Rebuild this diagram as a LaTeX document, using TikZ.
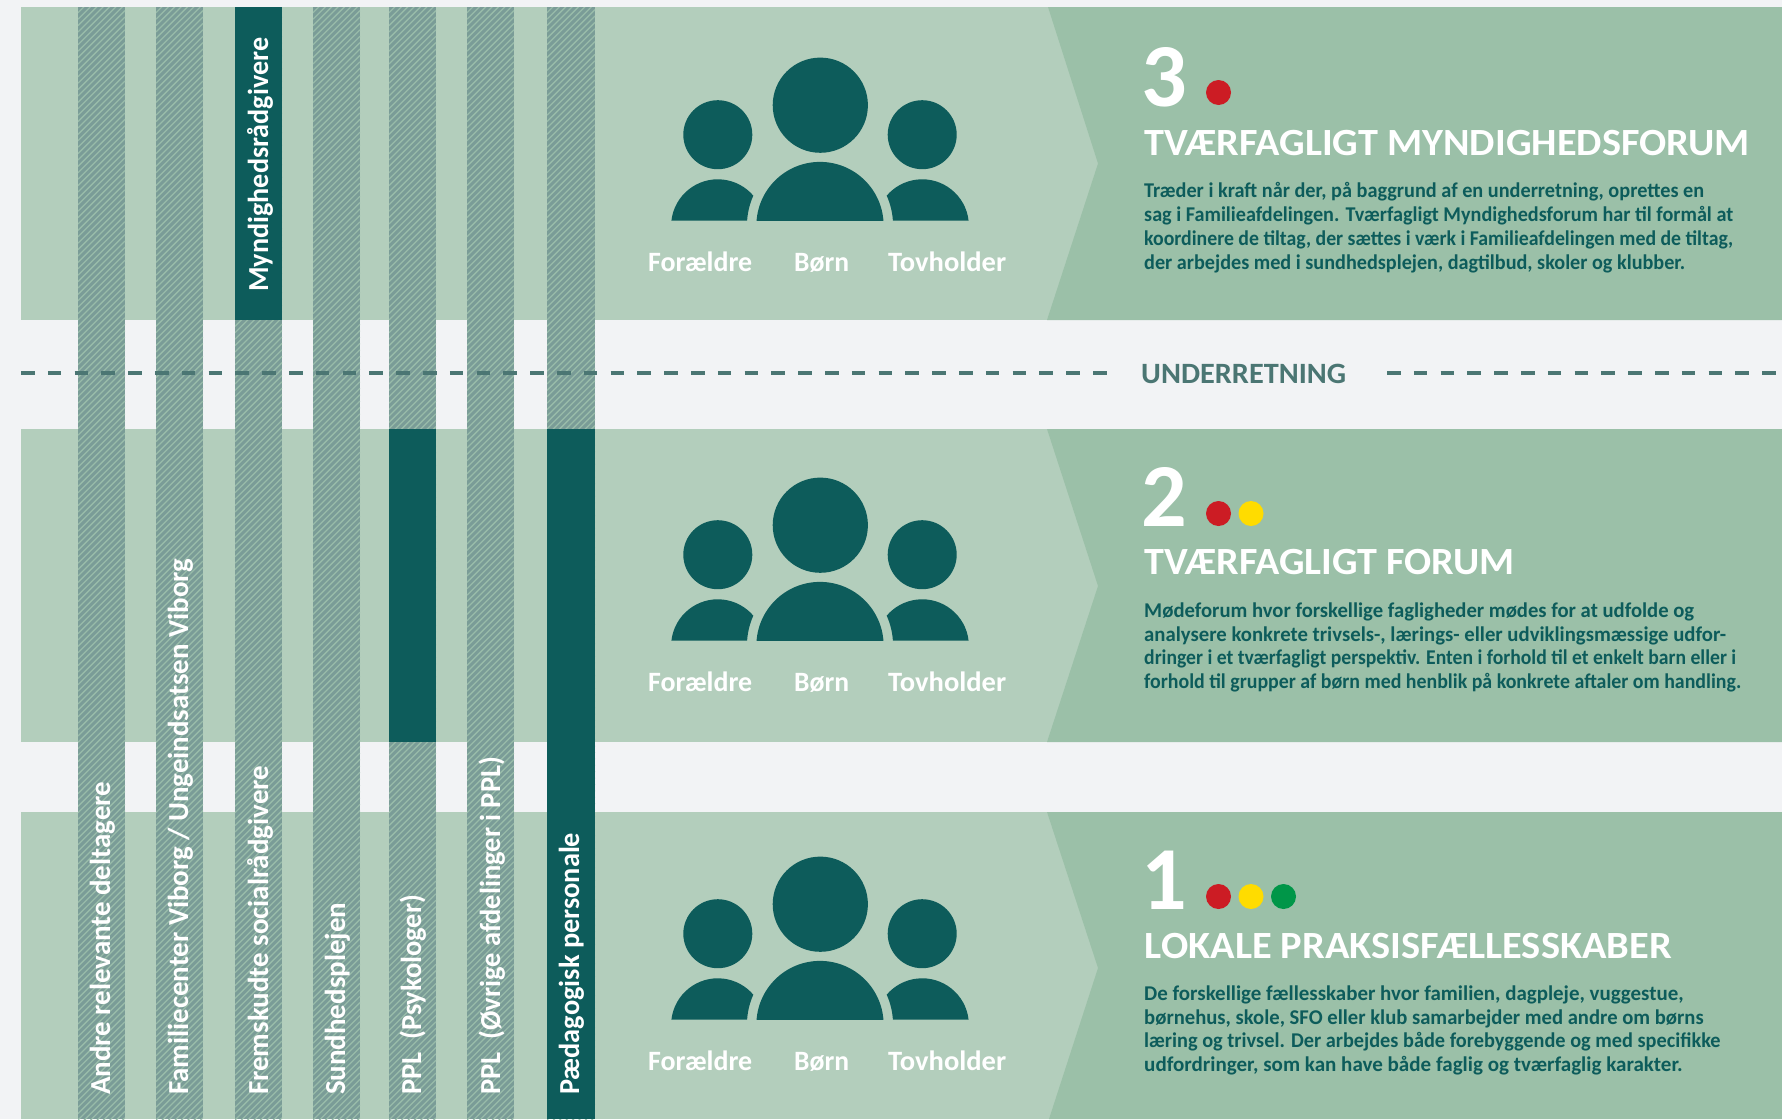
\documentclass[tikz,border=0pt]{standalone}
\usepackage{graphicx}
\usepackage{fontspec}
\setmainfont{Carlito}
\usetikzlibrary{calc}
\definecolor{pagebg}{HTML}{F2F3F5}
\definecolor{bandlight}{HTML}{B3CEBC}
\definecolor{banddark}{HTML}{9BC0A8}
\definecolor{teal}{HTML}{0D5C5B}
\definecolor{hatchbase}{HTML}{7A9C97}
\definecolor{hatchline}{HTML}{98BBA9}
\definecolor{dashcol}{HTML}{4B7673}
\definecolor{dotred}{HTML}{CC1C24}
\definecolor{dotyellow}{HTML}{FFDC00}
\definecolor{dotgreen}{HTML}{009648}
\newcommand\fitw[2]{\resizebox{#1pt}{\height}{#2}}
\newcommand\hatchstrip[2]{%
  \begin{scope}
    \clip (#1,7) rectangle (#2,1119);
    \fill[hatchbase] (#1,7) rectangle (#2,1119);
    \foreach \yy in {0,6.4,...,1230}{
      \draw[hatchline,line width=1.3pt] (#1,\yy) -- (#2,\yy-#2+#1);
    }
  \end{scope}}
\tikzset{
  x=1pt,y=-1pt,
  stripelabel/.style={rotate=90,anchor=base west,inner sep=0pt,text=white,font=\fontsize{29}{29}\selectfont\bfseries},
  peoplelabel/.style={anchor=base west,inner sep=0pt,text=white,font=\fontsize{28}{28}\selectfont\bfseries},
  numeral/.style={anchor=base west,inner sep=0pt,text=white,font=\fontsize{90}{90}\selectfont\bfseries},
  heading/.style={anchor=base west,inner sep=0pt,text=white,font=\fontsize{38.5}{38.5}\selectfont\bfseries},
  bodytext/.style={anchor=base west,inner sep=0pt,align=left,text=teal,font=\fontsize{21}{23.7}\selectfont\bfseries},
  dashline/.style={draw=dashcol,line width=4pt,dash pattern=on 13.6pt off 13.2pt},
  leveldot/.style={circle,inner sep=0pt,minimum size=25pt},
  people/.pic={
    \fill[teal] (820.3,105.2) circle[radius=47.6];
    \fill[teal] (717.8,134.7) circle[radius=34.5];
    \fill[teal] (922.2,134.7) circle[radius=34.5];
    % centre body
    \begin{scope}
      \clip (740,150) rectangle (900,220.7);
      \fill[teal] (820,225.5) circle[radius=63.6];
    \end{scope}
    % left body
    \fill[teal] (671.4,220.7) arc[start angle=173.5,end angle=40.5,radius=46.7pt]
       arc[start angle=155.9,end angle=176.2,radius=73pt] -- cycle;
    % right body
    \fill[teal] (968.6,220.7) arc[start angle=6.5,end angle=139.5,radius=46.7pt]
       arc[start angle=24.1,end angle=3.8,radius=73pt] -- cycle;
    \node[peoplelabel] (-f) at (648,271) {\fitw{104}{Forældre}};
    \node[peoplelabel] (-b) at (794,271) {\fitw{55}{Børn}};
    \node[peoplelabel] (-t) at (888,271) {\fitw{118}{Tovholder}};
  }
}
\begin{document}
\begin{tikzpicture}
\useasboundingbox (0,0) rectangle (1782,1119);
\fill[pagebg] (0,0) rectangle (1782,1119);
% bands
\fill[bandlight] (21,7) rectangle (1100,320);
\fill[bandlight] (21,429) rectangle (1100,742);
\fill[bandlight] (21,812) rectangle (1100,1119);
\fill[banddark] (1048,7) -- (1098,163.5) -- (1047,320) -- (1782,320) -- (1782,7) -- cycle;
\fill[banddark] (1047,429) -- (1098,586) -- (1047,742) -- (1782,742) -- (1782,429) -- cycle;
\fill[banddark] (1047,812) -- (1098,968) -- (1049,1119) -- (1782,1119) -- (1782,812) -- cycle;
% hatched strips
\hatchstrip{78}{125}
\hatchstrip{156}{203}
\hatchstrip{235}{282}
\hatchstrip{313}{360}
\hatchstrip{389}{436}
\hatchstrip{467}{514}
\hatchstrip{547}{595}
% solid sections
\fill[teal] (235,7) rectangle (282,320);
\fill[teal] (389,429) rectangle (436,742);
\fill[teal] (547,429) rectangle (595,1119);
% dashed line
\coordinate (dl1) at (21,373);
\coordinate (dl2) at (1107,373);
\coordinate (dr1) at (1387,373);
\coordinate (dr2) at (1777,373);
\draw[dashline] (dl1) -- (dl2);
\draw[dashline] (dr1) -- (dr2);
\node[anchor=base west,inner sep=0pt,text=dashcol,font=\fontsize{29.5}{30}\selectfont\bfseries] (under) at (1141,383) {\fitw{205}{UNDERRETNING}};
% strip labels
\node[stripelabel] (s1) at (110,1095) {\fitw{313}{Andre relevante deltagere}};
\node[stripelabel] (s2) at (188,1095) {\fitw{536}{Familiecenter Viborg / Ungeindsatsen Viborg}};
\node[stripelabel] (s3) at (268,1095) {\fitw{329}{Fremskudte socialrådgivere}};
\node[stripelabel] (s4) at (345,1095) {\fitw{192}{Sundhedsplejen}};
\node[stripelabel] (s5) at (421,1095) {\fitw{200}{PPL\ \ (Psykologer)}};
\node[stripelabel] (s6) at (500,1095) {\fitw{338}{PPL\ \ (Øvrige afdelinger i PPL)}};
\node[stripelabel] (s7) at (579,1095) {\fitw{262}{Pædagogisk personale}};
\node[stripelabel] (s8) at (268,292) {\fitw{254}{Myndighedsrådgivere}};
% people
\pic (p3) at (0,0) {people};
\pic (p2) at (0,420) {people};
\pic (p1) at (0,799) {people};
% level 3
\node[numeral] (n3) at (1141,106) {3};
\node[leveldot,fill=dotred] (d3r) at (1218.5,92.5) {};
\node[heading] (h3) at (1144.5,155) {\fitw{605}{TVÆRFAGLIGT MYNDIGHEDSFORUM}};
\node[bodytext] (b3) at (1144,269) {\fitw{560}{Træder i kraft når der, på baggrund af en underretning, oprettes en}\\
\fitw{589}{sag i Familieafdelingen. Tværfagligt Myndighedsforum har til formål at}\\
\fitw{589}{koordinere de tiltag, der sættes i værk i Familieafdelingen med de tiltag,}\\
\fitw{541}{der arbejdes med i sundhedsplejen, dagtilbud, skoler og klubber.}};
% level 2
\node[numeral] (n2) at (1141,526) {2};
\node[leveldot,fill=dotred] (d2r) at (1218.5,513.5) {};
\node[leveldot,fill=dotyellow] (d2y) at (1251,513.5) {};
\node[heading] (h2) at (1144.5,574) {\fitw{370}{TVÆRFAGLIGT FORUM}};
\node[bodytext] (b2) at (1144,688.5) {\fitw{550}{Mødeforum hvor forskellige fagligheder mødes for at udfolde og}\\
\fitw{582}{analysere konkrete trivsels-, lærings- eller udviklingsmæssige udfor-}\\
\fitw{592}{dringer i et tværfagligt perspektiv. Enten i forhold til et enkelt barn eller i}\\
\fitw{597}{forhold til grupper af børn med henblik på konkrete aftaler om handling.}};
% level 1
\node[numeral] (n1) at (1141,909) {1};
\node[leveldot,fill=dotred] (d1r) at (1218.5,896.5) {};
\node[leveldot,fill=dotyellow] (d1y) at (1251,896.5) {};
\node[leveldot,fill=dotgreen] (d1g) at (1283.5,896.5) {};
\node[heading] (h1) at (1144.5,958) {\fitw{527}{LOKALE PRAKSISFÆLLESSKABER}};
\node[bodytext] (b1) at (1144,1071.5) {\fitw{539.5}{De forskellige fællesskaber hvor familien, dagpleje, vuggestue,}\\
\fitw{559.5}{børnehus, skole, SFO eller klub samarbejder med andre om børns}\\
\fitw{576.5}{læring og trivsel. Der arbejdes både forebyggende og med specifikke}\\
\fitw{538.5}{udfordringer, som kan have både faglig og tværfaglig karakter.}};
\end{tikzpicture}
\end{document}
